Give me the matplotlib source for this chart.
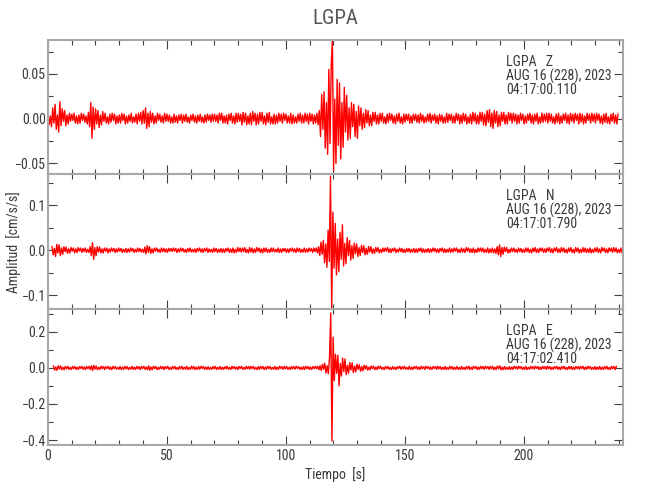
import numpy as np
import matplotlib
matplotlib.use("Agg")
import matplotlib.pyplot as plt
from matplotlib import font_manager as fm
from matplotlib.ticker import MultipleLocator, FuncFormatter

# narrow font if there is one, the reference uses a thin condensed face
have = {f.name for f in fm.fontManager.ttflist}
font = "Liberation Sans"
for cand in ["Liberation Sans Narrow", "Arial Narrow", "Roboto Condensed", "PT Sans Narrow", "Archivo Narrow"]:
    if cand in have:
        font = cand
        break
narrow = font != "Liberation Sans"
plt.rcParams["font.family"] = [font, "DejaVu Sans"]
fs = 10 if narrow else 9

# peak values (units of 1e-3 cm/s/s), one every 0.5 s
step = 0.5

z_start = 0.1
z_vals = [
    6, -7, 3, -9, 12, -5, 16, -12, 4, -15, 19, -8, 11, -3, 9, -8, 4, -6, 6, -3,
    5, -2, 6, -5, 3, -6, 4, -5, 6, -2, 5, -4, 3, -6, 7, -9, 18, -22, 13, -12,
    11, -6, 9, -10, 4, -7, 8, -3, 6, -5, 2, -6, 5, -4, 6, -2, 5, -6, 3, -5,
    4, -5, 6, -2, 5, -6, 3, -5, 4, -3, 6, -5, 2, -4, 5, -6, 6, -3, 7, -6,
    9, -5, 12, -11, 6, -9, 8, -4, 6, -6, 3, -5, 6, -2, 5, -4, 3, -5, 6, -3,
    5, -3, 4, -5, 2, -5, 5, -4, 3, -5, 4, -2, 5, -5, 4, -3, 5, -4, 2, -5,
    4, -2, 5, -4, 3, -5, 4, -3, 5, -4, 2, -5, 4, -4, 5, -2, 4, -4, 5, -3,
    5, -3, 4, -5, 6, -2, 6, -5, 3, -5, 4, -6, 5, -2, 6, -5, 3, -6, 6, -4,
    6, -3, 5, -7, 7, -4, 6, -7, 3, -6, 6, -7, 8, -3, 6, -7, 5, -6, 7, -3,
    7, -6, 3, -7, 6, -4, 7, -6, 2, -6, 5, -6, 4, -5, 6, -3, 5, -5, 6, -2,
    5, -5, 3, -5, 6, -6, 4, -5, 2, -5, 5, -3, 6, -5, 4, -5, 6, -3, 5, -6,
    6, -3, 5, -6, 4, -5, 6, -7, 9, -20, 27, -12, 30, -33, 18, -40, 55, -28, 58, 90,
    -58, 22, -50, 44, -30, 40, -45, 18, -32, 35, -15, 26, -24, 12, -22, 18, -9, 16, -20, 8,
    -22, 14, -8, 12, -12, 6, -10, 10, -5, 9, -8, 4, -8, 7, -3, 7, -6, 4, -6, 6,
    -3, 6, -5, 2, -6, 5, -4, 6, -2, 5, -5, 3, -6, 5, -3, 6, -5, 2, -6, 5,
    -4, 5, -2, 5, -5, 3, -5, 5, -2, 5, -4, 4, -5, 6, -3, 4, -5, 2, -4, 5,
    -3, 6, -5, 4, -2, 5, -5, 3, -6, 5, -3, 4, -5, 2, -5, 6, -4, 5, -2, 5,
    -5, 3, -5, 6, -2, 5, -6, 4, -5, 6, -3, 5, -6, 2, -5, 5, -6, 7, -3, 6,
    -6, 4, -6, 7, -3, 7, -7, 5, -8, 9, -4, 10, -9, 6, -11, 9, -5, 8, -9, 4,
    -8, 7, -3, 7, -6, 4, -6, 7, -2, 6, -5, 6, -3, 5, -6, 4, -5, 6, -2, 5,
    -6, 3, -5, 5, -2, 6, -5, 4, -6, 5, -3, 6, -6, 2, -5, 6, -4, 5, -3, 6,
    -5, 6, -3, 5, -5, 2, -6, 5, -4, 6, -6, 3, -5, 5, -2, 6, -5, 4, -6, 6,
    -3, 5, -5, 6, -2, 5, -6, 6, -4, 5, -6, 3, -5, 6, -2, 5, -5, 6, -3, 5,
    -5, 6, -2, 5, -5, 3, -6, 5, -4, 6, -5, 2, -6, 5, -3, 6, -5, 4, -6, 5,
]

n_start = 1.8
n_vals = [
    8, -10, 4, -14, 13, -6, 12, -12, 5, -9, 8, -3, 7, -7, 3, -6, 6, -2, 5, -6,
    3, -5, 6, -2, 5, -5, 4, -3, 5, -5, 2, -5, 8, -12, 17, -20, 6, -12, 8, -4,
    7, -6, 3, -6, 5, -2, 5, -6, 3, -4, 5, -2, 4, -5, 3, -4, 5, -2, 4, -5,
    2, -4, 4, -5, 3, -4, 5, -2, 4, -5, 2, -4, 5, -3, 4, -4, 2, -5, 7, -8,
    10, -5, 8, -7, 3, -6, 5, -2, 5, -4, 2, -5, 5, -3, 4, -4, 3, -5, 4, -2,
    4, -3, 5, -2, 4, -5, 3, -4, 5, -2, 4, -4, 2, -5, 4, -3, 5, -4, 2, -4,
    3, -5, 4, -2, 5, -4, 3, -5, 4, -2, 5, -5, 3, -4, 2, -5, 5, -3, 4, -5,
    2, -4, 4, -5, 3, -5, 4, -2, 5, -5, 3, -5, 5, -6, 2, -5, 6, -3, 5, -4,
    5, -3, 6, -5, 2, -6, 6, -4, 5, -6, 3, -5, 6, -2, 5, -5, 3, -6, 5, -3,
    5, -5, 2, -5, 5, -3, 5, -4, 2, -4, 5, -5, 3, -5, 4, -2, 4, -5, 3, -5,
    4, -2, 5, -4, 3, -5, 5, -3, 4, -5, 2, -4, 5, -5, 3, -4, 5, -2, 4, -5,
    5, -3, 5, -6, 8, -12, 18, -9, 22, -28, 14, -38, 45, -25, 165, -135, 85, -40, 60, -55,
    25, -48, 40, -20, 57, -35, 15, -30, 28, -12, 22, -22, 10, -18, 16, -8, 14, -14, 6, -12,
    11, -5, 10, -10, 4, -9, 8, -4, 8, -7, 3, -7, 6, -3, 6, -6, 2, -5, 5, -3,
    5, -2, 6, -5, 3, -5, 4, -2, 5, -5, 2, -4, 5, -3, 4, -5, 2, -5, 4, -3,
    4, -5, 2, -4, 4, -5, 3, -5, 4, -2, 5, -5, 3, -5, 2, -4, 4, -5, 3, -4,
    5, -2, 4, -5, 3, -5, 4, -2, 5, -5, 3, -5, 2, -4, 5, -5, 3, -4, 5, -2,
    5, -5, 2, -5, 5, -4, 3, -5, 6, -2, 5, -5, 3, -5, 5, -6, 2, -5, 5, -3,
    5, -3, 5, -5, 2, -5, 5, -6, 3, -5, 5, -6, 3, -7, 8, -10, 12, -14, 6, -9,
    7, -3, 6, -6, 2, -5, 5, -3, 5, -4, 2, -5, 5, -3, 4, -5, 2, -5, 5, -3,
    5, -5, 2, -6, 5, -3, 6, -5, 3, -5, 5, -2, 5, -5, 3, -5, 5, -2, 6, -5,
    3, -6, 5, -2, 6, -5, 3, -5, 6, -3, 5, -5, 2, -6, 5, -3, 6, -5, 2, -6,
    6, -3, 5, -6, 2, -5, 6, -4, 5, -5, 3, -5, 5, -6, 2, -5, 5, -3, 6, -5,
    3, -6, 6, -2, 5, -5, 3, -6, 5, -2, 5, -5, 6, -3, 5, -6, 2, -5, 5, -6,
]

e_start = 2.4
e_vals = [
    10, -12, 5, -13, 12, -6, 11, -10, 4, -10, 8, -5, 9, -8, 3, -9, 8, -4, 9, -8,
    4, -9, 8, -3, 9, -8, 5, -9, 8, -4, 9, -9, 12, -14, 14, -6, 10, -10, 4, -8,
    9, -4, 8, -9, 7, -3, 9, -8, 5, -10, 9, -4, 8, -7, 3, -8, 8, -9, 4, -8,
    9, -5, 8, -9, 3, -7, 9, -8, 4, -9, 9, -5, 7, -9, 8, -3, 9, -8, 5, -10,
    12, -13, 5, -10, 9, -4, 8, -9, 3, -8, 9, -5, 7, -9, 8, -4, 9, -8, 3, -9,
    8, -4, 9, -8, 3, -9, 8, -5, 9, -8, 4, -7, 9, -9, 3, -8, 10, -5, 8, -9,
    4, -8, 8, -7, 9, -3, 8, -8, 5, -8, 7, -9, 3, -8, 8, -5, 9, -9, 4, -7,
    8, -9, 4, -8, 7, -5, 9, -8, 3, -9, 9, -4, 8, -7, 5, -9, 8, -3, 9, -8,
    3, -8, 9, -5, 8, -7, 9, -4, 8, -8, 3, -9, 7, -8, 9, -4, 8, -9, 5, -8,
    9, -4, 8, -8, 3, -7, 8, -9, 5, -8, 9, -3, 7, -8, 9, -5, 8, -8, 4, -9,
    8, -5, 8, -7, 9, -3, 8, -8, 4, -9, 7, -8, 9, -4, 8, -9, 5, -8, 8, -4,
    9, -4, 9, -10, 12, -14, 20, -8, 26, -28, 12, -32, 60, 305, -405, 170, -70, 76, -30, 70,
    -100, 25, -45, 55, -20, 50, -38, 15, -30, 30, -12, 28, -26, 10, -22, 20, -8, 18, -18, 7,
    -16, 15, -6, 13, -12, 5, -11, 11, -4, 10, -10, 5, -9, 10, -4, 9, -8, 3, -9, 8,
    -4, 9, -8, 3, -9, 8, -7, 4, -9, 8, -3, 9, -8, 7, -5, 9, -8, 3, -8, 9,
    -8, 4, -9, 8, -3, 9, -8, 5, -9, 9, -4, 7, -8, 9, -3, 8, -8, 5, -8, 8,
    -3, 8, -8, 9, -5, 7, -9, 4, -8, 8, -9, 3, -8, 9, -5, 8, -9, 4, -8, 8,
    -8, 4, -9, 8, -7, 3, -9, 8, -5, 9, -9, 4, -8, 9, -3, 8, -9, 5, -8, 9,
    -4, 8, -8, 9, -3, 8, -8, 9, -5, 9, -10, 4, -9, 10, -5, 12, -11, 4, -9, 8,
    -8, 3, -8, 7, -9, 5, -8, 9, -4, 8, -7, 9, -3, 8, -9, 4, -8, 8, -9, 3,
    -8, 9, -4, 8, -7, 9, -3, 8, -9, 5, -8, 9, -4, 7, -8, 9, -5, 8, -9, 4,
    -8, 8, -3, 9, -8, 5, -9, 8, -4, 9, -8, 3, -9, 8, -5, 8, -9, 4, -8, 8,
    -4, 8, -8, 9, -3, 9, -9, 5, -8, 9, -4, 8, -8, 3, -8, 8, -9, 5, -8, 8,
    -8, 4, -9, 8, -5, 9, -8, 3, -9, 9, -4, 8, -9, 8,
]

station = "LGPA"
components = ["Z", "N", "E"]
date_line = "AUG 16 (228), 2023"
start_times = ["04:17:00.110", "04:17:01.790", "04:17:02.410"]

GRAY = "#a8a8a8"
TXT = "#3a3a3a"


def minus_fmt(decimals):
    def f(v, pos):
        if abs(v) < 1e-12:
            v = 0.0
        return f"{v:.{decimals}f}".replace("-", "\u2212")
    return FuncFormatter(f)


fig = plt.figure(figsize=(6.5, 5), dpi=100)
left, width = 0.0734, 0.8855
boxes = [(0.652, 0.268), (0.382, 0.270), (0.1106, 0.2714)]
ylims = [(-0.062, 0.088), (-0.131, 0.170), (-0.426, 0.327)]
majors = [0.05, 0.1, 0.2]
decs = [2, 1, 1]
traces = [(z_start, z_vals), (n_start, n_vals), (e_start, e_vals)]

for k in range(3):
    bottom, height = boxes[k]
    ax = fig.add_axes([left, bottom, width, height])
    t0, vals = traces[k]
    t = t0 + step * np.arange(len(vals))
    ax.plot(t, np.array(vals) * 1e-3, color="red", lw=1.0)
    ax.set_xlim(0, 241.8)
    ax.set_ylim(*ylims[k])
    ax.xaxis.set_major_locator(MultipleLocator(50))
    ax.xaxis.set_minor_locator(MultipleLocator(10))
    ax.yaxis.set_major_locator(MultipleLocator(majors[k]))
    ax.yaxis.set_minor_locator(MultipleLocator(majors[k] / 2))
    ax.yaxis.set_major_formatter(minus_fmt(decs[k]))
    for sp in ax.spines.values():
        sp.set_color(GRAY)
        sp.set_linewidth(1.5)
    ax.tick_params(which="both", direction="in", top=True, right=True,
                   color="#404040", width=0.8, labelcolor=TXT, labelsize=fs)
    ax.tick_params(which="major", length=6.5)
    ax.tick_params(which="minor", length=3.6)
    ax.tick_params(axis="y", pad=1.5)
    ax.tick_params(axis="x", pad=3)
    if k < 2:
        ax.tick_params(axis="x", labelbottom=False)
    lines = [f"{station}   {components[k]}", date_line, start_times[k]]
    for i, s in enumerate(lines):
        ax.annotate(s, xy=(0.796, 1), xycoords="axes fraction",
                    xytext=(0, -10.5 - 10.2 * i), textcoords="offset points",
                    ha="left", va="top", fontsize=fs, color=TXT)
    if k == 2:
        ax.set_xlabel("Tiempo  [s]", fontsize=fs, color=TXT, labelpad=3)

fig.text(0.516, 1 - 18 / 500, station, ha="center", va="center",
         fontsize=15, color="#555555")
fig.text(0.0215, 0.516, "Amplitud  [cm/s/s]", rotation=90, ha="center",
         va="center", fontsize=fs, color=TXT)

fig.savefig("out.png", dpi=100, facecolor="white")
